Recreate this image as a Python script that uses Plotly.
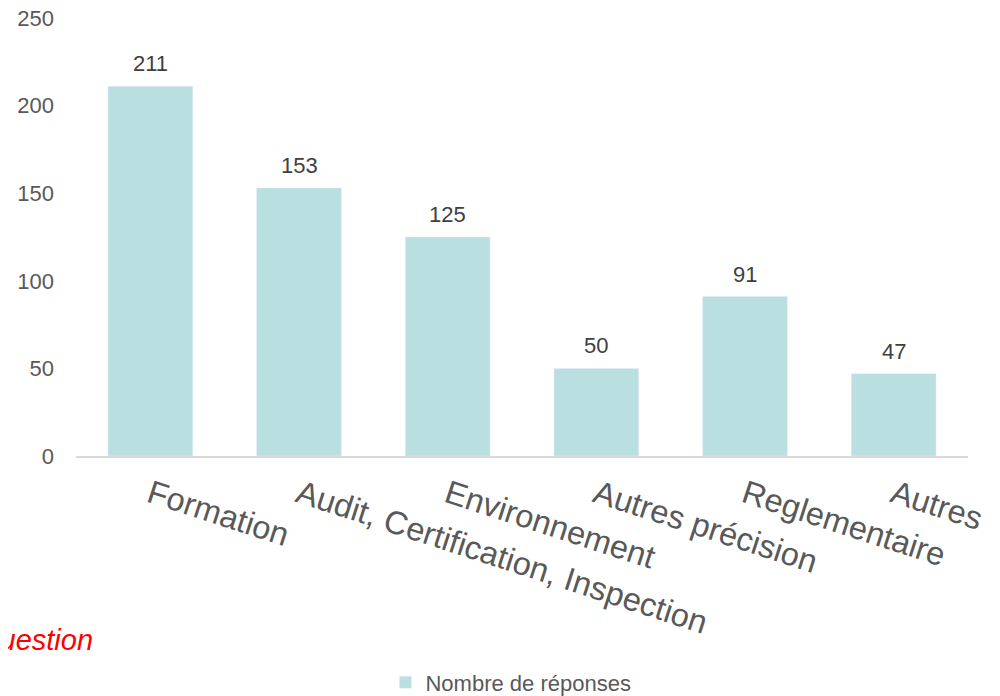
import plotly.graph_objects as go

categories = ["Formation", "Audit, Certification, Inspection", "Environnement",
              "Autres précision", "Reglementaire", "Autres"]
responses = [211, 153, 125, 50, 91, 47]

fig = go.Figure()
fig.add_trace(go.Bar(
    x=categories, y=responses, name="Nombre de réponses",
    marker_color="#B9DFE1",
))

# value labels above the bars
for cat, val in zip(categories, responses):
    fig.add_annotation(x=cat, y=val, text=str(val), showarrow=False,
                       yanchor="bottom", yshift=8,
                       font=dict(size=22, color="#404040"))

fig.add_annotation(
    text="<i>Question</i>", xref="paper", yref="paper",
    x=0.0217, y=-0.42, xanchor="right", yanchor="middle",
    showarrow=False, font=dict(size=29, color="#FF0000"),
)

# page body adds 8px margin, so the figure is 8px smaller on each axis
fig.update_layout(
    width=992, height=688,
    margin=dict(l=68, r=32, t=10, b=240),
    plot_bgcolor="white", paper_bgcolor="white",
    font=dict(family="Liberation Sans, Arial, sans-serif", color="#595959"),
    bargap=0.43,
    showlegend=True,
    legend=dict(orientation="h", xref="container", yref="container",
                x=0.507, y=0.0196, xanchor="center", yanchor="middle",
                font=dict(size=22, color="#595959")),
    xaxis=dict(tickangle=18, tickfont=dict(size=32.5, color="#595959"),
               showline=True, linecolor="#D9D9D9", linewidth=2,
               ticks="", showgrid=False, automargin=False,
               ticklabelstandoff=5),
    yaxis=dict(range=[0, 250], dtick=50, showgrid=False, zeroline=False,
               tickfont=dict(size=22, color="#595959"),
               ticks="", ticklabelstandoff=21, automargin=False,
               ticklabeloverflow="allow"),
)

fig.write_html("out.html")
